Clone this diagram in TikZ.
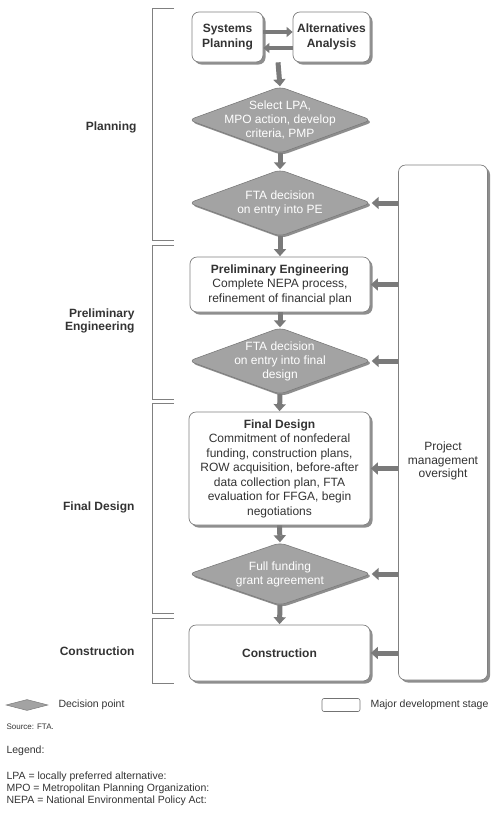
\documentclass[tikz,border=0pt]{standalone}
\usepackage{fontspec}
\setmainfont{Liberation Sans}
\usetikzlibrary{arrows.meta,shadows,backgrounds,calc,shapes.geometric}
\definecolor{ink}{HTML}{333333}
\definecolor{arrowgray}{HTML}{7A7A7A}
\definecolor{decfill}{HTML}{A3A3A3}
\definecolor{decedge}{HTML}{7C7C7C}
\definecolor{shadowgray}{HTML}{8E8E8E}
\begin{document}
\begin{tikzpicture}[x=1pt,y=-1pt,
  stagebox/.style={draw=black!50, line width=0.7pt, fill=white, rounded corners=7pt,
    drop shadow={shadow xshift=2.5pt, shadow yshift=-2.5pt, fill=shadowgray, opacity=1},
    align=center, text=ink, inner sep=0pt, font=\fontsize{12}{14.5}\selectfont},
  decnode/.style={minimum width=182pt, minimum height=66pt, inner sep=0pt, align=center,
    text=white, font=\fontsize{12}{14}\selectfont},
  decshape/.style={fill=decfill, draw=decedge, line width=0.6pt, rounded corners=6pt},
  decshadow/.style={fill=shadowgray, rounded corners=6pt},
  fatarrow/.style={draw=arrowgray, line width=5pt, -{Triangle[width=12pt,length=7pt]}, shorten >=0.5pt},
  smallarrow/.style={draw=arrowgray, line width=4pt, -{Triangle[width=10pt,length=6pt]}},
  bracketline/.style={draw=black!50, line width=0.6pt},
  sidelabel/.style={anchor=east, align=right, text=ink, font=\bfseries\fontsize{12}{13.5}\selectfont},
  legtext/.style={anchor=west, text=ink, font=\fontsize{10.5}{11}\selectfont}
]
\useasboundingbox (0,0) rectangle (492,823);

% stage boxes
\node[stagebox, minimum width=71pt, minimum height=50pt] (sp) at (227.5,37) {\bfseries Systems\\\bfseries Planning};
\node[stagebox, minimum width=77pt, minimum height=50pt] (aa) at (331.5,37) {\bfseries Alternatives\\\bfseries Analysis};
\node[stagebox, minimum width=180pt, minimum height=55pt] (pe) at (280,284.5)
  {\bfseries Preliminary Engineering\\Complete NEPA process,\\refinement of financial plan};
\node[stagebox, minimum width=181pt, minimum height=113pt] (fd) at (279.5,468.5)
  {\bfseries Final Design\\Commitment of nonfederal\\funding, construction plans,\\ROW acquisition, before-after\\data collection plan, FTA\\evaluation for FFGA, begin\\negotiations};
\node[stagebox, minimum width=181pt, minimum height=56pt] (con) at (279.5,653) {\bfseries Construction};
\node[stagebox, minimum width=89pt, minimum height=515pt] (pmo) at (443,422.5) {};
\node[text=ink, align=center, font=\fontsize{12}{13.5}\selectfont] (pmotext) at (443,461) {Project\\management\\oversight};

% decision points
\node[decnode] (d1) at (280,120) {Select LPA,\\MPO action, develop\\criteria, PMP};
\node[decnode] (d2) at (280,203) {FTA decision\\on entry into PE};
\node[decnode] (d3) at (280,361) {FTA decision\\on entry into final\\design};
\node[decnode, minimum height=62pt] (d4) at (280,574) {Full funding\\grant agreement};

\begin{scope}[on background layer]
  \foreach \d in {d1,d2,d3,d4}{
    \path[decshadow] ([xshift=2pt,yshift=-2pt]\d.west) -- ([xshift=2pt,yshift=-2pt]\d.north) -- ([xshift=2pt,yshift=-2pt]\d.east) -- ([xshift=2pt,yshift=-2pt]\d.south) -- cycle;
    \path[decshape] (\d.west) -- (\d.north) -- (\d.east) -- (\d.south) -- cycle;
  }
\end{scope}

% connectors
\draw[smallarrow] ([yshift=5pt]sp.east) -- ([yshift=5pt]aa.west);
\draw[smallarrow] ([yshift=-11pt]aa.west) -- ([yshift=-11pt]sp.east);
\coordinate (spaa) at ($(sp.south east)!0.5!(aa.south west)$);
\draw[fatarrow] (spaa) -- (d1.north);
\draw[fatarrow] (d1.south) -- (d2.north);
\draw[fatarrow] (d2.south) -- (pe.north);
\draw[fatarrow] (pe.south) -- (d3.north);
\draw[fatarrow] (d3.south) -- (fd.north);
\draw[fatarrow] (fd.south) -- (d4.north);
\draw[fatarrow] (d4.south) -- (con.north);

\draw[fatarrow] (pmo.west |- d2.east) -- (d2.east);
\draw[fatarrow] (pmo.west |- pe.east) -- (pe.east);
\draw[fatarrow] (pmo.west |- d3.east) -- (d3.east);
\draw[fatarrow] (pmo.west |- fd.east) -- (fd.east);
\draw[fatarrow] (pmo.west |- d4.east) -- (d4.east);
\draw[fatarrow] (pmo.west |- con.east) -- (con.east);

% phase brackets
\draw[bracketline] (174,8) -- (152,8) -- (152,240) -- (174,240);
\draw[bracketline] (174,245) -- (152,245) -- (152,399) -- (174,399);
\draw[bracketline] (174,403) -- (152,403) -- (152,613) -- (174,613);
\draw[bracketline] (174,618) -- (152,618) -- (152,683) -- (174,683);

\node[sidelabel] (lplan) at (140,127) {Planning};
\node[sidelabel] (lpe) at (138,321) {Preliminary\\Engineering};
\node[sidelabel] (lfd) at (138,507) {Final Design};
\node[sidelabel] (lcon) at (138,651) {Construction};

% legend
\node[shape=diamond, minimum width=42pt, minimum height=11pt, inner sep=0pt, fill=decfill, draw=decedge, line width=0.5pt] (legd) at (27,705) {};
\node[legtext] (legdt) at (55,705) {Decision point};
\node[draw=black!55, line width=0.6pt, rounded corners=2pt, minimum width=38pt, minimum height=13pt, inner sep=0pt] (legr) at (341,705) {};
\node[legtext] (legrt) at (367,705) {Major development stage};
\node[legtext, font=\fontsize{8}{9}\selectfont] (src) at (3,727) {Source: FTA.};
\node[legtext] (legend) at (3,751) {Legend:};
\node[legtext] (lpa) at (3,777) {LPA = locally preferred alternative:};
\node[legtext] (mpo) at (3,789) {MPO = Metropolitan Planning Organization:};
\node[legtext] (nepa) at (3,801) {NEPA = National Environmental Policy Act:};
\end{tikzpicture}
\end{document}
